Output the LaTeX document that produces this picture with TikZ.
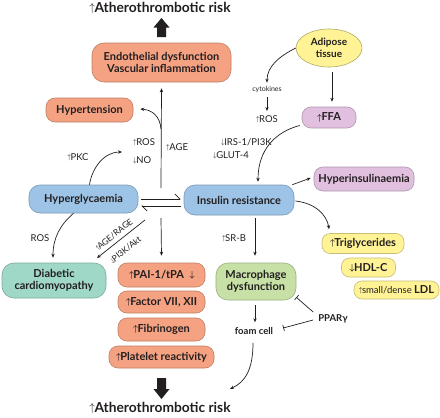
\documentclass[tikz,border=0pt]{standalone}
\usepackage{amsmath}
\usepackage{fontspec}
\setmainfont{Lato}
\usetikzlibrary{arrows.meta,shapes.geometric,calc}
\definecolor{txt}{RGB}{35,31,32}
\definecolor{salm}{RGB}{245,162,130}
\definecolor{blu}{RGB}{157,196,230}
\definecolor{tea}{RGB}{160,216,200}
\definecolor{lil}{RGB}{224,192,222}
\definecolor{yel}{RGB}{255,243,150}
\definecolor{grn}{RGB}{198,224,166}
\newcommand{\UPA}{\raisebox{0.12ex}{\scalebox{0.8}{$\uparrow$}}\kern-0.6pt}
\newcommand{\DNA}{\raisebox{0.12ex}{\scalebox{0.8}{$\downarrow$}}\kern-0.6pt}
\newcommand{\UPB}{\raisebox{0.12ex}{\scalebox{0.8}{$\boldsymbol{\uparrow}$}}\kern-0.6pt}
\newcommand{\DNB}{\raisebox{0.12ex}{\scalebox{0.8}{$\boldsymbol{\downarrow}$}}\kern-0.6pt}
\begin{document}
\begin{tikzpicture}[x=1pt,y=-1pt,
  box/.style={rounded corners=9pt, draw=#1!78!black, fill=#1, line width=0.6pt, inner sep=0pt, align=center, text=txt, font=\fontsize{11}{12.5}\selectfont\bfseries},
  arr/.style={-{Stealth[length=4pt,width=3.4pt]}, line width=0.7pt, draw=txt},
  inh/.style={-{Bar[width=6pt,line width=0.7pt]}, line width=0.7pt, draw=txt},
  lab/.style={inner sep=0pt, text=txt, font=\fontsize{9.5}{10}\selectfont},
  blab/.style={inner sep=0pt, text=txt, font=\fontsize{9.5}{10}\selectfont\bfseries},
  title/.style={inner sep=0pt, text=txt, font=\fontsize{13.8}{15}\selectfont\bfseries}]
\useasboundingbox (0,0) rectangle (440,418);
\fill[white] (0,0) rectangle (440,418);

% titles and block arrows
\node[title] (ttop) at (160,8) {\UPA Atherothrombotic risk};
\node[title] (tbot) at (160,408) {\UPA Atherothrombotic risk};
\fill[txt] (161.5,18) -- (169.5,27.5) -- (166,27.5) -- (166,37) -- (157,37) -- (157,27.5) -- (153.5,27.5) -- cycle;
\fill[txt] (161.5,399) -- (169.5,389) -- (166,389) -- (166,378) -- (157,378) -- (157,389) -- (153.5,389) -- cycle;

% boxes
\node[box=salm, minimum width=139pt, minimum height=39pt, rounded corners=12pt] (endo) at (161.5,62.5) {Endothelial dysfunction\\Vascular inflammation};
\node[box=salm, minimum width=87pt, minimum height=24pt] (hyp) at (89.5,110) {Hypertension};
\node[ellipse, draw=yel!70!black, fill=yel, line width=0.6pt, minimum width=66pt, minimum height=38pt, inner sep=0pt, align=center, text=txt, font=\fontsize{10}{11.5}\selectfont\bfseries] (adip) at (329,48) {Adipose\\tissue};
\node[box=lil, minimum width=54pt, minimum height=21pt] (ffa) at (329,117.5) {\UPB FFA};
\node[box=blu, minimum width=110pt, minimum height=30pt, rounded corners=11pt] (ir) at (239,200) {Insulin resistance};
\node[box=blu, minimum width=109pt, minimum height=28pt, rounded corners=11pt] (hg) at (83.5,199) {Hyperglycaemia};
\node[box=tea, minimum width=104pt, minimum height=35pt, rounded corners=12pt] (dc) at (54,280.5) {Diabetic\\cardiomyopathy};
\node[box=salm, minimum width=87pt, minimum height=24pt] (pai) at (161.5,275) {\UPB PAI-1/tPA\enspace\DNB};
\node[box=salm, minimum width=87pt, minimum height=22pt] (fac) at (161.5,302) {\UPB Factor VII, XII};
\node[box=salm, minimum width=87pt, minimum height=23pt] (fib) at (161.5,329.5) {\UPB Fibrinogen};
\node[box=salm, minimum width=105pt, minimum height=22pt] (plt) at (161.5,357) {\UPB Platelet reactivity};
\node[box=grn, minimum width=80pt, minimum height=37pt, rounded corners=12pt] (mac) at (256,281.5) {Macrophage\\dysfunction};
\node[box=lil, minimum width=100pt, minimum height=24pt] (hins) at (364,179) {Hyperinsulinaemia};
\node[box=yel, minimum width=82pt, minimum height=20pt, rounded corners=8pt] (tg) at (363,243.5) {\UPB Triglycerides};
\node[box=yel, minimum width=54pt, minimum height=19pt, rounded corners=8pt] (hdl) at (368.5,267.5) {\DNB HDL-C};
\node[box=yel, minimum width=85pt, minimum height=18pt, rounded corners=8pt] (ldl) at (396.5,290) {\mdseries\fontsize{9.5}{10}\selectfont\UPA small/dense \textbf{\fontsize{11}{12}\selectfont LDL}};

% labels
\node[lab, font=\fontsize{7}{8}\selectfont] (cyt) at (267,90) {cytokines};
\node[lab] (ros1) at (267,119) {\UPA ROS};
\node[lab, anchor=west] (irs) at (221,142) {\DNA IRS-1/PI3K};
\node[lab, anchor=west] (glut) at (213,155) {\DNA GLUT-4};
\node[lab, anchor=west] (ros2) at (133,142) {\UPA ROS};
\node[lab, anchor=west] (no) at (133,160) {\DNA NO};
\node[lab, anchor=west] (age) at (166,147) {\UPA AGE};
\node[lab] (pkc) at (78,157) {\UPA PKC};
\node[lab] (ros3) at (40,238) {ROS};
\node[lab] (srb) at (234,238) {\UPA SR-B};
\node[lab, rotate=38.4, font=\fontsize{8.5}{9}\selectfont] (rage) at (114,235) {\UPA AGE/RAGE};
\node[lab, rotate=38.4, font=\fontsize{8.5}{9}\selectfont] (pi3k) at (125.5,250) {\DNA PI3K/Akt};
\node[blab] (foam) at (254,331) {foam cell};
\node[blab] (ppar) at (333,319) {PPARγ};

% coordinates
\coordinate (vtop) at (161,188);
\coordinate (vbot) at (161,218);
\coordinate (vmid) at (161,129);
\coordinate (dgs) at (145,220);
\coordinate (dge) at (97,258);
\coordinate (fend) at (230,389);

% connectors
\draw[arr] (vtop) -- ($(endo.south)+(0,6)$);
\draw[arr] (vmid) .. controls (160,116) and (152,110) .. ($(hyp.east)+(7,-1)$);
\draw[arr] ($(hg.north)+(6,0)$) .. controls (92,168) and (104,152) .. (122,152);
\draw[arr] ($(hg.south)+(-10,0)$) .. controls (60,225) and (53,238) .. ($(dc.north)+(-1,-5)$);
\draw[line width=0.7pt, draw=txt, -{Straight Barb[left,length=5pt]}] ($(hg.east)+(3,0)$) -- ($(ir.west)+(-3,-1)$);
\draw[line width=0.7pt, draw=txt, -{Straight Barb[left,length=5pt]}] ($(ir.west)+(-3,6)$) -- ($(hg.east)+(3,7)$);
\draw[arr] (dgs) -- (dge);
\draw[arr] (vbot) -- ($(pai.north)+(0,-7)$);
\draw[arr] ($(adip.south)+(3,5)$) -- ($(ffa.north)+(3,-5)$);
\draw[arr] (adip.west) .. controls (280,56) and (267,66) .. ($(cyt.north)+(0,-4)$);
\draw[arr] ($(cyt.south)+(0,4)$) -- ($(ros1.north)+(0,-4)$);
\draw[arr] ($(ffa.west)+(-2,8)$) .. controls (275,132) and (258,150) .. ($(ir.north)+(19,-3)$);
\draw[arr] ($(ir.north east)+(-2,0)$) -- ($(hins.west)+(-3,-1)$);
\draw[arr] ($(ir.east)+(1,1)$) .. controls (315,203) and (327,215) .. ($(tg.north)+(-34,-4)$);
\draw[arr] ($(ir.south)+(16,3)$) -- ($(mac.north)+(-1,-7)$);
\draw[arr] ($(mac.south)+(-1,5)$) -- ($(foam.north)+(1,-5)$);
\draw[inh] ($(ppar.west)+(-5,-7)$) -- ($(mac.south east)+(0,-3)$);
\draw[inh] ($(ppar.west)+(-5,1)$) -- ($(foam.east)+(10,-3)$);
\draw[arr] ($(foam.south)+(-1,8)$) .. controls (253,370) and (245,382) .. (fend);
\end{tikzpicture}
\end{document}
